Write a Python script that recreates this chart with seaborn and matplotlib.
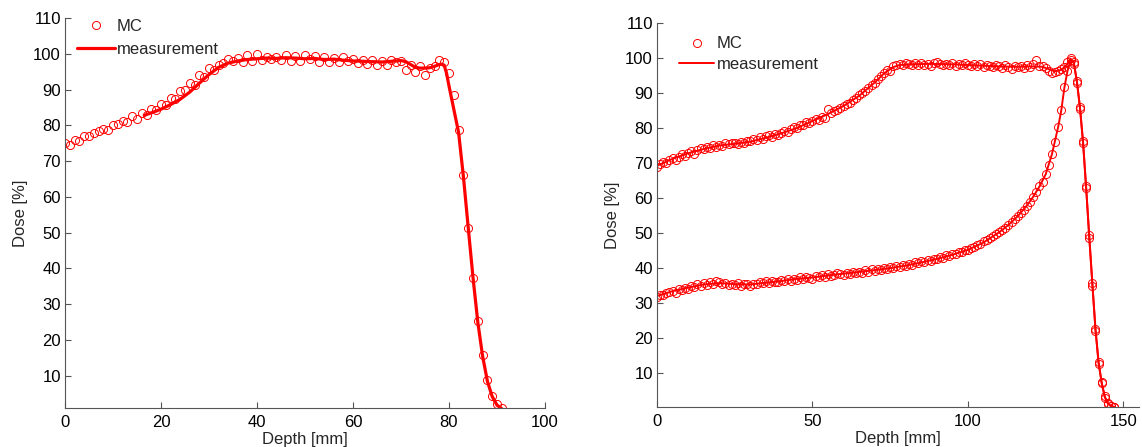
import matplotlib
matplotlib.use("Agg")
import matplotlib.pyplot as plt
import seaborn as sns

# ---- left panel: MC points (1 mm steps) ----
left_mc_depth = list(range(0, 92))
left_mc_dose = [75.2, 74.4, 75.8, 75.6, 76.9, 77.0, 77.8, 78.3, 79.1, 78.6,
                80.2, 80.4, 81.3, 80.9, 82.6, 81.8, 83.4, 82.9, 84.6, 84.2,
                86.0, 85.8, 87.6, 87.3, 89.5, 89.8, 91.9, 91.2, 94.1, 93.5,
                95.9, 95.4, 96.8, 97.3, 98.6, 97.9, 98.8, 97.8, 99.6, 98.0,
                99.9, 98.2, 99.1, 98.6, 99.2, 98.3, 99.6, 98.0, 99.4, 98.1,
                99.7, 98.5, 99.5, 97.8, 99.0, 97.6, 98.9, 97.7, 99.2, 98.0,
                98.6, 97.5, 98.4, 97.1, 98.2, 97.0, 98.1, 96.9, 98.4, 97.6,
                98.1, 95.5, 96.8, 95.0, 96.5, 94.2, 96.0, 96.6, 98.3, 97.6,
                94.6, 88.5, 78.7, 66.0, 51.3, 37.2, 25.4, 15.9, 8.9, 4.4,
                2.0, 1.0]

# left panel: measurement
left_meas_depth = [16.5, 18, 20, 22, 24, 26, 28, 30, 32, 34, 36, 38, 40, 42, 44,
                   46, 48, 50, 52, 54, 56, 58, 60, 62, 64, 66, 68, 70, 71, 72,
                   73, 74, 75, 76, 77, 78, 78.5, 79, 79.5, 80, 81, 82, 83, 84,
                   85, 86, 87, 88, 89, 90, 91]
left_meas_dose = [82.8, 83.5, 84.5, 85.8, 87.3, 89.3, 91.8, 94.2, 96.2, 97.4,
                  98.0, 98.4, 98.6, 98.8, 98.7, 98.9, 98.8, 98.6, 98.7, 98.4,
                  98.5, 98.2, 98.0, 97.9, 97.8, 97.7, 97.9, 98.1, 97.8, 97.0,
                  96.2, 96.0, 96.0, 96.1, 96.5, 97.0, 97.1, 96.8, 94.5, 91.0,
                  84.5, 78.0, 65.7, 51.5, 37.5, 25.0, 15.5, 8.5, 4.2, 1.8, 0.8]

# ---- right panel: MC points, two profiles (1 mm steps) ----
right_mc_depth = list(range(0, 148))
right_mc_upper = [69.0, 69.6, 70.3, 70.1, 71.0, 71.4, 70.9, 71.8, 72.5, 71.9,
                  72.9, 73.4, 72.7, 73.8, 74.2, 73.9, 74.6, 74.3, 75.1, 74.7,
                  75.2, 74.9, 75.8, 75.3, 75.7, 75.6, 75.4, 76.1, 75.8, 76.3,
                  76.2, 76.8, 76.5, 77.3, 77.0, 77.6, 77.9, 77.5, 78.4, 78.1,
                  78.6, 79.2, 78.9, 79.7, 80.3, 79.9, 80.8, 81.0, 81.7, 81.4,
                  82.1, 82.6, 82.3, 83.1, 83.0, 85.3, 84.2, 84.9, 85.1, 85.8,
                  86.4, 86.9, 87.2, 88.1, 88.6, 89.3, 89.9, 90.6, 91.4, 92.2,
                  93.0, 94.1, 94.9, 95.8, 96.6, 96.3, 97.6, 97.9, 98.3, 98.1,
                  98.6, 98.2, 97.9, 98.5, 98.0, 98.7, 98.1, 98.4, 97.8, 98.6,
                  98.9, 98.2, 97.9, 98.4, 98.0, 98.6, 97.7, 98.3, 97.9, 98.5,
                  98.1, 97.6, 98.4, 97.8, 98.2, 97.5, 98.0, 97.7, 97.3, 97.9,
                  97.6, 97.2, 98.1, 97.4, 97.0, 97.8, 97.3, 97.6, 97.1, 97.9,
                  97.5, 98.4, 99.3, 97.8, 97.6, 97.2, 96.4, 95.7, 95.9, 96.2,
                  96.8, 97.5, 98.8, 100.0, 98.4, 92.8, 86.0, 75.6, 63.5, 48.7,
                  35.0, 22.0, 12.6, 7.1, 3.0, 1.2, 0.6, 0.4]
right_mc_lower = [31.8, 32.4, 32.2, 32.9, 33.1, 33.5, 33.0, 34.0, 33.6, 34.3,
                  34.0, 34.8, 34.5, 35.4, 34.9, 35.6, 35.2, 36.1, 35.5, 36.3,
                  35.9, 35.4, 35.7, 35.1, 35.5, 35.2, 35.6, 35.0, 35.4, 35.3,
                  35.0, 35.5, 35.4, 35.9, 35.6, 36.2, 35.8, 36.4, 36.0, 36.1,
                  36.5, 36.2, 36.8, 36.4, 37.0, 36.7, 37.3, 36.9, 37.5, 37.2,
                  37.0, 37.6, 37.3, 37.9, 37.5, 38.4, 37.8, 38.0, 38.6, 38.2,
                  38.1, 38.7, 38.3, 38.9, 38.6, 39.0, 38.7, 39.3, 39.0, 39.6,
                  39.1, 39.8, 39.5, 40.1, 39.7, 40.3, 40.0, 40.6, 40.2, 40.9,
                  40.6, 41.2, 40.9, 41.6, 41.3, 41.9, 41.6, 42.3, 42.0, 42.7,
                  42.5, 43.2, 42.9, 43.6, 43.4, 44.1, 43.9, 44.6, 44.5, 45.2,
                  45.1, 45.8, 46.0, 46.6, 46.9, 47.6, 48.0, 48.5, 49.2, 49.6,
                  50.3, 51.0, 51.5, 52.4, 53.1, 53.9, 54.8, 55.6, 56.7, 57.8,
                  59.0, 60.3, 61.8, 63.4, 64.6, 66.9, 69.4, 72.7, 76.0, 80.4,
                  85.2, 91.8, 96.4, 99.3, 98.8, 93.4, 85.4, 76.3, 62.8, 49.3,
                  35.6, 22.6, 13.1, 7.5, 3.3, 1.4, 0.7, 0.3]

# right panel: measurements
right_meas_upper_depth = [0, 5, 10, 15, 20, 25, 30, 35, 40, 45, 50, 55, 60, 65, 70,
                          73, 76, 78, 82, 86, 90, 95, 100, 105, 110, 115, 120, 124,
                          126, 128, 130, 131.5, 133, 134, 135, 136, 137, 138, 139,
                          140, 141, 142, 143, 144, 145, 146, 147]
right_meas_upper_dose = [69.2, 71.2, 72.8, 74.0, 75.0, 75.5, 76.1, 77.2, 78.5, 80.0,
                         82.0, 84.0, 86.3, 89.2, 93.0, 95.6, 97.4, 98.0, 98.2, 98.3,
                         98.3, 98.2, 98.0, 97.8, 97.6, 97.5, 97.6, 97.5, 96.8, 96.2,
                         96.6, 97.8, 99.8, 98.8, 93.5, 86.0, 76.0, 63.0, 49.0, 35.5,
                         22.5, 13.0, 7.2, 3.2, 1.3, 0.6, 0.3]
right_meas_lower_depth = [0, 5, 10, 15, 20, 25, 30, 35, 40, 45, 50, 55, 60, 65, 70,
                          75, 80, 85, 90, 95, 100, 105, 110, 113, 116, 119, 121, 123,
                          125, 127, 129, 130, 131, 132, 133, 134, 135, 136, 137, 138,
                          139, 140, 141, 142, 143, 144, 145, 146, 147]
right_meas_lower_dose = [32.0, 33.4, 34.4, 35.3, 35.7, 35.4, 35.3, 35.8, 36.3, 36.9,
                         37.3, 37.9, 38.4, 38.9, 39.4, 40.0, 40.7, 41.6, 42.6, 43.8,
                         45.2, 47.3, 50.2, 52.3, 54.8, 57.9, 60.4, 63.3, 66.8, 72.5,
                         80.3, 85.0, 91.5, 96.3, 99.3, 98.8, 93.5, 86.0, 76.0, 63.0,
                         49.0, 35.5, 22.5, 13.0, 7.2, 3.2, 1.3, 0.6, 0.3]

yticks = [10, 20, 30, 40, 50, 60, 70, 80, 90, 100, 110]

sns.set_style("ticks")
plt.rcParams['font.family'] = ['Liberation Sans', 'DejaVu Sans']
plt.rcParams['font.size'] = 12
plt.rcParams['xtick.direction'] = 'in'
plt.rcParams['ytick.direction'] = 'in'

fig = plt.figure(figsize=(11.42, 4.47), dpi=100)
W, H = 1142, 447

def px_axes(x0, y0, x1, y1):
    return fig.add_axes([x0 / W, 1 - y1 / H, (x1 - x0) / W, (y1 - y0) / H])

ax1 = px_axes(65, 18, 545, 408)
ax2 = px_axes(657, 23, 1139, 407)

mc_style = dict(marker='o', linestyle='', markersize=5.8, markerfacecolor='none',
                markeredgecolor='red', markeredgewidth=0.7, color='red')

# left
sns.lineplot(x=left_mc_depth, y=left_mc_dose, ax=ax1, sort=False, estimator=None,
             label='MC', **mc_style)
sns.lineplot(x=left_meas_depth, y=left_meas_dose, ax=ax1, sort=False, estimator=None,
             color='red', linewidth=2.3, label='measurement')
ax1.set_xlim(0, 100)
ax1.set_ylim(1, 110)
ax1.set_xticks([0, 20, 40, 60, 80, 100])

# right
sns.lineplot(x=right_mc_depth, y=right_mc_upper, ax=ax2, sort=False, estimator=None,
             label='MC', **mc_style)
sns.lineplot(x=right_mc_depth, y=right_mc_lower, ax=ax2, sort=False, estimator=None,
             **mc_style)
sns.lineplot(x=right_meas_upper_depth, y=right_meas_upper_dose, ax=ax2, sort=False,
             estimator=None, color='red', linewidth=1.4, label='measurement')
sns.lineplot(x=right_meas_lower_depth, y=right_meas_lower_dose, ax=ax2, sort=False,
             estimator=None, color='red', linewidth=1.4)
ax2.set_xlim(0, 155)
ax2.set_ylim(0.3, 110)
ax2.set_xticks([0, 50, 100, 150])

for ax in (ax1, ax2):
    ax.set_yticks(yticks)
    ax.set_xlabel('Depth [mm]', labelpad=1.5)
    ax.set_ylabel('Dose [%]', labelpad=4)
    ax.tick_params(length=4, width=0.8, colors='#555555', labelcolor='black')
    ax.tick_params(axis='x', pad=5)
    ax.tick_params(axis='y', pad=3)
    for s in ('left', 'bottom'):
        ax.spines[s].set_color('#555555')
        ax.spines[s].set_linewidth(0.8)
    sns.despine(ax=ax)

ax1.legend(frameon=False, loc='upper left', bbox_to_anchor=(0.025, 0.997),
           borderaxespad=0, borderpad=0, handlelength=2.3, handletextpad=0.1,
           labelspacing=0.45)
ax2.legend(frameon=False, loc='upper left', bbox_to_anchor=(0.046, 0.965),
           borderaxespad=0, borderpad=0, handlelength=2.1, handletextpad=0.15,
           labelspacing=0.35)

fig.savefig('out.png', dpi=100)
